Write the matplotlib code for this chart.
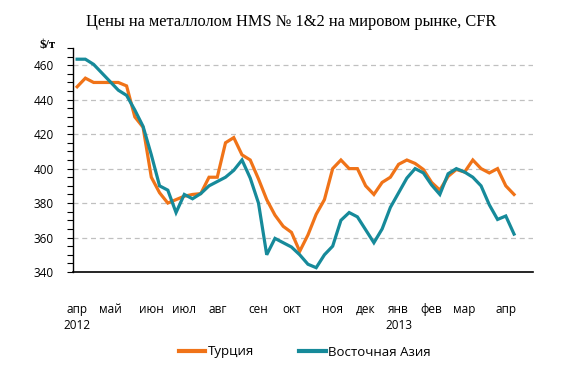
import matplotlib
matplotlib.use("Agg")
import matplotlib.pyplot as plt
from matplotlib.ticker import MultipleLocator

# weekly prices, $/t, April 2012 - April 2013
turkey = [447.5, 452.5, 450, 450, 450, 450, 448, 430, 424, 395,
          386, 380, 382, 384, 385, 385.5, 395, 395, 415, 418,
          408, 405, 394, 382, 373, 366.5, 363, 352, 361.5, 373.5,
          382, 400, 405, 400, 400, 390, 385, 392, 395, 402.5,
          405, 403, 399.5, 392, 387.5, 395.5, 399.5, 398, 405, 400,
          397.5, 400, 390, 385]
east_asia = [463.5, 463.5, 460.5, 455.5, 450.5, 445.5, 442.5, 434, 424.5, 408,
             390, 387.5, 374.5, 385, 382.5, 385.5, 390, 392.5, 395, 399,
             405, 394.5, 380, 350, 359.5, 357, 354.5, 350, 344.5, 342.5,
             350, 355, 370, 374.5, 372, 364.5, 357, 365, 377.5, 386,
             394.5, 400, 397.5, 390.5, 385, 397, 400, 398, 395, 390,
             379, 370.5, 372.5, 362]

month_pos = [0, 4, 9, 13, 17, 22, 26, 31, 35, 39, 43, 47, 52]
month_labels = ["апр\n2012", "май", "июн", "июл", "авг", "сен", "окт",
                "ноя", "дек", "янв\n2013", "фев", "мар", "апр"]

orange = "#F07318"
teal = "#168A9A"

fig = plt.figure(figsize=(5.8, 3.8), dpi=100)
ax = fig.add_axes([73/580, 1 - 272/380, 460/580, 224/380])

weeks = range(len(turkey))
ax.plot(weeks, turkey, color=orange, lw=2.3, label="Турция", solid_joinstyle="miter")
ax.plot(weeks, east_asia, color=teal, lw=2.3, label="Восточная Азия", solid_joinstyle="miter")

ax.set_xlim(-0.5, 55.3)
ax.set_ylim(340, 470)
ax.yaxis.set_minor_locator(MultipleLocator(5))
ax.set_yticks(range(340, 461, 20))
for v in range(360, 461, 20):
    ax.axhline(v, color="#c0c0c0", lw=0.9, ls=(0, (4, 3)), zorder=0)

ax.set_xticks(month_pos)
ax.set_xticklabels(month_labels, fontfamily="Open Sans", fontsize=8.5, linespacing=1.35)
for lab in ax.get_xticklabels():
    lab.set_verticalalignment("top")
ax.tick_params(axis="x", length=0, pad=22)
ax.tick_params(axis="y", which="both", direction="out", length=4, width=0.8,
               labelsize=8.5, pad=10)
for lab in ax.get_yticklabels():
    lab.set_fontfamily("Open Sans")

for s in ["top", "right"]:
    ax.spines[s].set_visible(False)
ax.spines["left"].set_linewidth(1)
ax.spines["bottom"].set_linewidth(1.2)

fig.text(291/580, 1 - 22/380, "Цены на металлолом HMS № 1&2 на мировом рынке, CFR",
         ha="center", va="center", fontfamily="Liberation Serif", fontsize=11.8)
fig.text(40/580, 1 - 45/380, "$/т", ha="left", va="center",
         fontfamily="Liberation Serif", fontweight="bold", fontsize=9)

leg = fig.legend(loc="center", bbox_to_anchor=(305/580, 1 - 352/380), ncol=2,
                 frameon=False, handlelength=2.0, handletextpad=0.2,
                 columnspacing=3.4, prop={"family": "Open Sans", "size": 9.5})
for line in leg.get_lines():
    line.set_linewidth(3)

fig.savefig("out.png", dpi=100)
